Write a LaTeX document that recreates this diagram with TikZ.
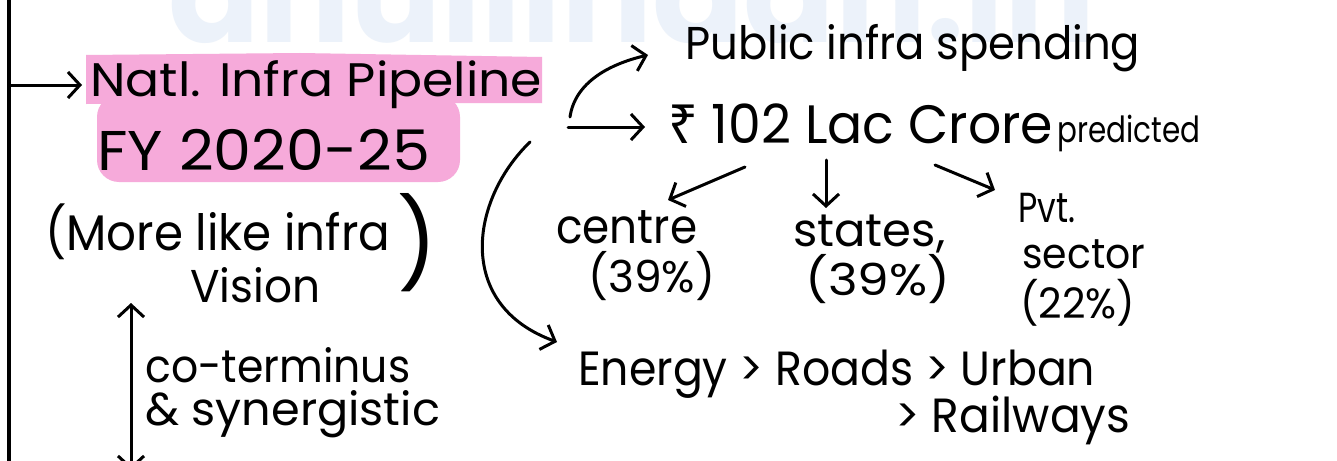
\documentclass[tikz,border=0pt]{standalone}
\usepackage{fontspec}
\setmainfont{Poppins}
\newfontfamily\rupeefont{Noto Sans}
\usetikzlibrary{arrows.meta}
\definecolor{hl}{RGB}{246,170,218}
\definecolor{wm}{RGB}{236,242,250}
\newcommand\fitw[2]{\resizebox{#1}{\height}{#2}}
\begin{document}
\begin{tikzpicture}[x=1pt,y=-1pt,
  txt/.style={anchor=base west, inner sep=0pt, text=black},
  pen/.style={line width=3pt, line cap=round, line join=round},
  tip/.tip={Straight Barb[length=12pt,width=26pt,line width=3pt]},
  arr/.style={pen, -tip},
  darr/.style={pen, tip-tip}]
\useasboundingbox (0,0) rectangle (1337,460);
\fill[white] (0,0) rectangle (1337,460);
% watermark
\begin{scope}
\clip (0,0) rectangle (1337,45);
\node[anchor=base west, inner sep=0pt, text=wm] (wmark) at (168,43) {\fontsize{135}{135}\selectfont\bfseries anullindan.in};
\end{scope}
% highlight
\fill[hl] (86,55) -- (300,53) -- (542,57) -- (542,103) -- (86,104) -- cycle;
\fill[hl, rounded corners=22pt] (97,95) -- (97,182) -- (460,182) -- (460,95) -- cycle;
% texts
\node[txt] (nip) at (90,96) {\fontsize{47}{48}\selectfont\fitw{452pt}{Natl. Infra Pipeline}};
\node[txt] (fy) at (97,170) {\fontsize{56}{58}\selectfont\fitw{333pt}{FY 2020-25}};
\node[txt] (more) at (45,250) {\fontsize{50}{52}\selectfont\fitw{345pt}{(More like infra}};
\node[txt] (rparen) at (397,275) {\resizebox{!}{82pt}{)}};
\node[txt] (vision) at (190,302) {\fontsize{46}{48}\selectfont\fitw{130pt}{Vision}};
\node[txt] (cot) at (145,382) {\fontsize{46}{48}\selectfont\fitw{265pt}{co-terminus}};
\node[txt] (syn) at (145,425) {\fontsize{46}{48}\selectfont\fitw{295pt}{\& synergistic}};
\node[txt] (pub) at (685,60) {\fontsize{46}{48}\selectfont\fitw{455pt}{Public infra spending}};
\node[txt] (lac) at (668,143) {\fontsize{54}{56}\selectfont\fitw{385pt}{{\rupeefont ₹} 102 Lac Crore}};
\node[txt] (pred) at (1057,142) {\fontsize{36}{38}\selectfont\fitw{143pt}{predicted}};
\node[txt] (centre) at (556,243) {\fontsize{48}{50}\selectfont\fitw{141pt}{centre}};
\node[txt] (cpct) at (588,292) {\fontsize{44}{46}\selectfont\fitw{127pt}{(39\%)}};
\node[txt] (states) at (793,246) {\fontsize{46}{48}\selectfont\fitw{152pt}{states,}};
\node[txt] (spct) at (805,295) {\fontsize{44}{46}\selectfont\fitw{145pt}{(39\%)}};
\node[txt] (pvt) at (1018,222) {\fontsize{42}{44}\selectfont\fitw{57pt}{Pvt.}};
\node[txt] (sector) at (1022,268) {\fontsize{42}{44}\selectfont\fitw{123pt}{sector}};
\node[txt] (ppct) at (1020,318) {\fontsize{42}{44}\selectfont\fitw{115pt}{(22\%)}};
\node[txt] (energy) at (578,385) {\fontsize{48}{50}\selectfont\fitw{517pt}{Energy > Roads > Urban}};
\node[txt] (rail) at (895,432) {\fontsize{48}{50}\selectfont\fitw{235pt}{> Railways}};
% coordinates
\coordinate (top) at (9,-5);
\coordinate (bot) at (9,470);
\coordinate (brk) at (9,85);
\coordinate (nipin) at (82,85);
\coordinate (s1) at (570,117);
\coordinate (pubin) at (648,55);
\coordinate (s2) at (568,127);
\coordinate (lacin) at (645,127);
\coordinate (s3) at (530,142);
\coordinate (enin) at (557,342);
\coordinate (lacC) at (745,167);
\coordinate (cin) at (668,200);
\coordinate (lacS) at (826,160);
\coordinate (sin) at (826,208);
\coordinate (lacP) at (935,165);
\coordinate (pin) at (995,190);
\coordinate (v1) at (131,303);
\coordinate (v2) at (131,470);
% connectors
\draw[pen, line width=3.2pt] (top) -- (bot);
\draw[arr] (brk) -- (nipin);
\draw[arr] (s1) .. controls (575,82) and (610,64) .. (pubin);
\draw[arr] (s2) -- (lacin);
\draw[arr] (s3) .. controls (470,200) and (455,305) .. (enin);
\draw[arr] (lacC) -- (cin);
\draw[arr] (lacS) -- (sin);
\draw[arr] (lacP) -- (pin);
\draw[darr] (v1) -- (v2);
\end{tikzpicture}
\end{document}
